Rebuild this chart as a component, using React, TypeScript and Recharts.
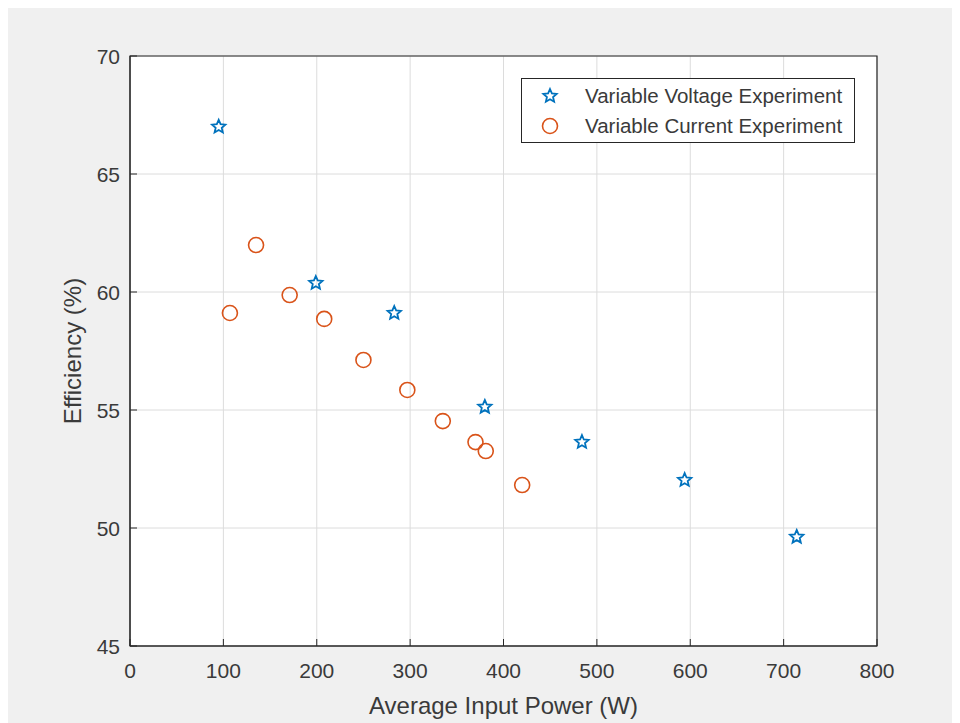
import { ScatterChart, Scatter, XAxis, YAxis, CartesianGrid, ReferenceArea } from 'recharts'

const voltagePower = [95, 199, 283, 380, 484, 594, 714]
const voltageEff = [67.0, 60.38, 59.11, 55.13, 53.64, 52.03, 49.62]

const currentPower = [107, 135, 171, 208, 250, 297, 335, 370, 381, 420]
const currentEff = [59.11, 61.99, 59.87, 58.86, 57.12, 55.85, 54.53, 53.64, 53.26, 51.82]

const xTicks = [0, 100, 200, 300, 400, 500, 600, 700, 800]
const yTicks = [45, 50, 55, 60, 65, 70]

const voltageData = voltagePower.map((p, i) => ({ power: p, eff: voltageEff[i] }))
const currentData = currentPower.map((p, i) => ({ power: p, eff: currentEff[i] }))

const BLUE = '#0072BD'
const ORANGE = '#D95319'
const AXIS = '#262626'
const TEXT = '#3a3a3a'
const FONT = '"Liberation Sans", Arial, Helvetica, sans-serif'

const starPoints = (cx: number, cy: number, outer: number, inner: number) => {
  const pts: string[] = []
  for (let i = 0; i < 10; i++) {
    const r = i % 2 === 0 ? outer : inner
    const a = -Math.PI / 2 + (i * Math.PI) / 5
    pts.push(`${cx + r * Math.cos(a)},${cy + r * Math.sin(a)}`)
  }
  return pts.join(' ')
}

const Star = ({ cx, cy }: any) => (
  <polygon points={starPoints(cx, cy, 7, 3.2)} fill="none" stroke={BLUE} strokeWidth={1.8} />
)

const Ring = ({ cx, cy }: any) => <circle cx={cx} cy={cy} r={7.5} fill="none" stroke={ORANGE} strokeWidth={1.6} />

const XTick = ({ x, y, payload }: any) => (
  <g>
    <line x1={x} y1={y} x2={x} y2={y - 7} stroke={AXIS} strokeWidth={1} />
    <text x={x} y={y + 32} textAnchor="middle" fontSize={21} fill={TEXT} fontFamily={FONT}>
      {payload.value}
    </text>
  </g>
)

const YTick = ({ x, y, payload }: any) => (
  <g>
    <line x1={x} y1={y} x2={x + 7} y2={y} stroke={AXIS} strokeWidth={1} />
    <text x={x - 10} y={y + 7.5} textAnchor="end" fontSize={21} fill={TEXT} fontFamily={FONT}>
      {payload.value}
    </text>
  </g>
)

const LegendBox = () => (
  <svg width={334} height={65} style={{ display: 'block', position: 'absolute', left: 514, top: 75 }}>
    <rect x={0.5} y={0.5} width={333} height={64} fill="#fff" stroke={AXIS} strokeWidth={1} />
    <polygon points={starPoints(29, 18, 7, 3.2)} fill="none" stroke={BLUE} strokeWidth={1.8} />
    <text x={64} y={25} fontSize={20.5} fill={TEXT} fontFamily={FONT}>
      Variable Voltage Experiment
    </text>
    <circle cx={29} cy={48} r={7.5} fill="none" stroke={ORANGE} strokeWidth={1.6} />
    <text x={64} y={55} fontSize={20.5} fill={TEXT} fontFamily={FONT}>
      Variable Current Experiment
    </text>
  </svg>
)

export default function App() {
  return (
    <div
      style={{
        position: 'relative',
        width: 953,
        height: 720,
        margin: '-5px 0 0 -1px',
        background: '#f0f0f0',
        overflow: 'hidden',
      }}
    >
      <ScatterChart width={953} height={720} margin={{ top: 53, right: 83, left: 7, bottom: 0 }}>
        <CartesianGrid stroke="#dcdcdc" strokeWidth={1} fill="#fff" fillOpacity={1} />
        <XAxis
          type="number"
          dataKey="power"
          domain={[0, 800]}
          ticks={xTicks}
          interval={0}
          height={77}
          tickSize={0}
          tickMargin={0}
          tickLine={false}
          axisLine={{ stroke: AXIS }}
          tick={<XTick />}
          label={{ value: 'Average Input Power (W)', position: 'insideBottom', offset: 9, fontSize: 24, fill: TEXT, fontFamily: FONT }}
        />
        <YAxis
          type="number"
          dataKey="eff"
          domain={[45, 70]}
          ticks={yTicks}
          interval={0}
          width={116}
          tickSize={0}
          tickMargin={0}
          tickLine={false}
          axisLine={{ stroke: AXIS }}
          tick={<YTick />}
          label={{ value: 'Efficiency (%)', angle: -90, position: 'center', fontSize: 24, fill: TEXT, fontFamily: FONT }}
        />
        <ReferenceArea x1={0} x2={800} y1={45} y2={70} fill="none" stroke={AXIS} strokeWidth={1.2} ifOverflow="visible" />
        <Scatter name="Variable Voltage Experiment" data={voltageData} shape={<Star />} isAnimationActive={false} />
        <Scatter name="Variable Current Experiment" data={currentData} shape={<Ring />} isAnimationActive={false} />
      </ScatterChart>
      <LegendBox />
    </div>
  )
}
